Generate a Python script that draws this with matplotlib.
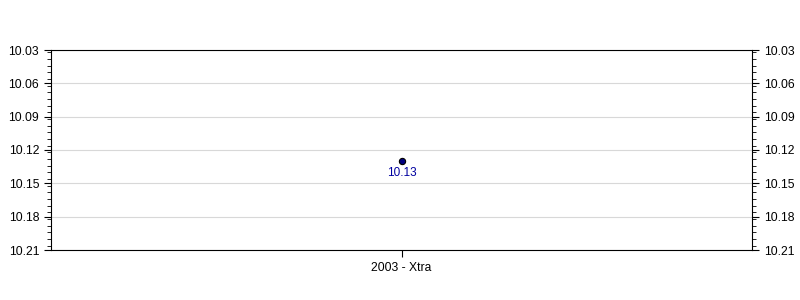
import numpy as np
import matplotlib
matplotlib.use("Agg")
import matplotlib.pyplot as plt
from matplotlib.ticker import MultipleLocator, FormatStrFormatter

categories = ["2003 - Xtra"]
values = [10.13]
y_ticks = [10.03, 10.06, 10.09, 10.12, 10.15, 10.18, 10.21]

plt.rcParams['font.family'] = ['Liberation Sans', 'DejaVu Sans']

fig = plt.figure(figsize=(8, 3), dpi=100)
ax = fig.add_axes([51 / 800, 50 / 300, 701 / 800, 200 / 300])

x = np.arange(len(categories))
ax.plot(x, values, 'o', color='#000080', markeredgecolor='black',
        markeredgewidth=0.8, markersize=4.5, zorder=3)
for xi, v in zip(x, values):
    ax.annotate("%.2f" % v, (xi, v), xytext=(0, -4), textcoords='offset points',
                ha='center', va='top', color='#0000a0', fontsize=8.5)

ax.set_xlim(-0.5, len(categories) - 0.5)
ax.set_xticks(x)
ax.set_xticklabels(categories, fontsize=8.7)

ax.set_ylim(y_ticks[-1], y_ticks[0])
ax.set_yticks(y_ticks)
ax.yaxis.set_major_formatter(FormatStrFormatter('%.2f'))
ax.yaxis.set_minor_locator(MultipleLocator(0.006))
ax.tick_params(axis='y', which='both', left=True, right=True,
               labelleft=True, labelright=True, labelsize=8.7, direction='out')
ax.tick_params(axis='y', which='major', length=5)
ax.tick_params(axis='y', which='minor', length=3)
ax.tick_params(axis='x', length=5, labelsize=8.7)

ax.grid(axis='y', which='major', color='#d8d8d8', linewidth=0.8)
ax.set_axisbelow(True)

fig.savefig("out.png", dpi=100)
